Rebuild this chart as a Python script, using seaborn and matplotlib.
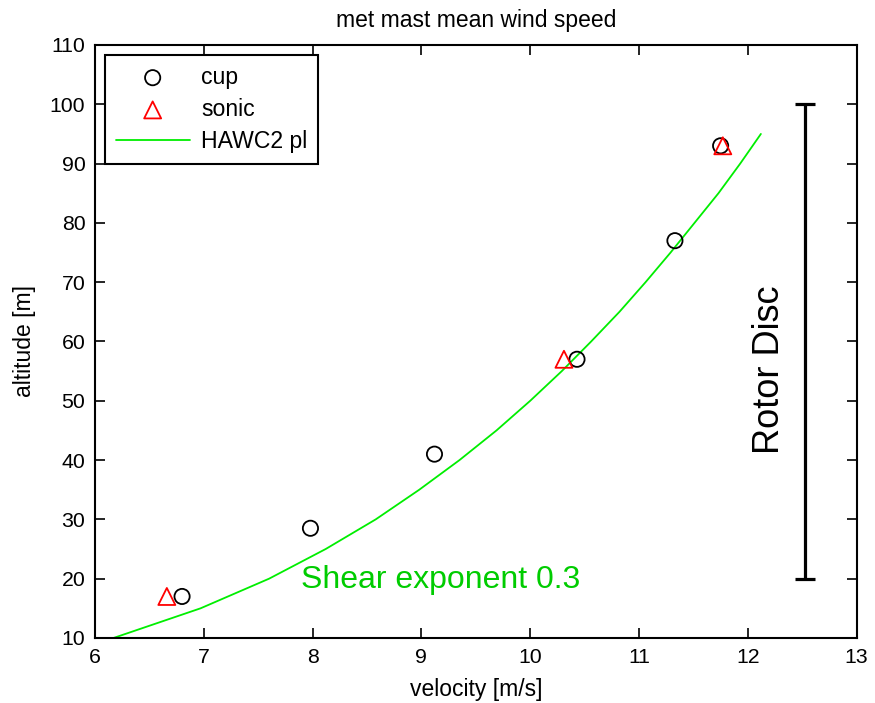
import matplotlib
matplotlib.use("Agg")
import matplotlib.pyplot as plt
import seaborn as sns
import pandas as pd

# Data
cup_v = [6.80, 7.98, 9.12, 10.43, 11.33, 11.75]
cup_z = [17.0, 28.5, 41.0, 57.0, 77.0, 93.0]
sonic_v = [6.66, 10.31, 11.77]
sonic_z = [17.0, 57.0, 93.0]
hawc_z = [10, 15, 20, 25, 30, 35, 40, 45, 50, 55, 60, 65, 70, 75, 80, 85, 90, 95]
hawc_v = [6.17, 6.97, 7.60, 8.12, 8.58, 8.98, 9.35, 9.69, 10.00, 10.29,
          10.56, 10.82, 11.06, 11.29, 11.51, 11.73, 11.93, 12.12]
rotor_x = 12.53
rotor_bottom, rotor_top = 20, 100
x_ticks = [6, 7, 8, 9, 10, 11, 12, 13]
y_ticks = [10, 20, 30, 40, 50, 60, 70, 80, 90, 100, 110]

sns.set_style("white")
plt.rcParams['font.family'] = ['Liberation Sans', 'DejaVu Sans']
plt.rcParams['text.color'] = 'black'
plt.rcParams['axes.labelcolor'] = 'black'

fig = plt.figure(figsize=(8.75, 7.03), dpi=100)
ax = fig.add_axes([0.1086, 0.0925, 0.8704, 0.8435])

cup_df = pd.DataFrame({"v": cup_v, "z": cup_z})
sonic_df = pd.DataFrame({"v": sonic_v, "z": sonic_z})
hawc_df = pd.DataFrame({"v": hawc_v, "z": hawc_z})

sns.scatterplot(data=cup_df, x="v", y="z", ax=ax, marker="o", s=120,
                facecolor="none", edgecolor="black", linewidth=1.3, label="cup", zorder=3)
sns.scatterplot(data=sonic_df, x="v", y="z", ax=ax, marker="^", s=150,
                facecolor="none", edgecolor="red", linewidth=1.3, label="sonic", zorder=3)
sns.lineplot(data=hawc_df, x="v", y="z", ax=ax, color="#00ee00", linewidth=1.3,
             sort=False, estimator=None, label="HAWC2 pl", zorder=2)

# Rotor disc bar
ax.errorbar([rotor_x], [(rotor_top + rotor_bottom) / 2],
            yerr=[(rotor_top - rotor_bottom) / 2], color="black",
            capsize=7.5, elinewidth=2.3, capthick=2.3, fmt="none")
ax.text(12.2, 55.2, "Rotor Disc", rotation=90, fontsize=26, ha="center", va="center",
        color="black")
ax.text(9.18, 19.8, "Shear exponent 0.3", color="#00cc00", fontsize=23,
        ha="center", va="center")

ax.set_xlim(6, 13)
ax.set_ylim(10, 110)
ax.set_xticks(x_ticks)
ax.set_yticks(y_ticks)
ax.tick_params(direction="in", length=7, width=1.2, labelsize=15.3, top=True, right=True,
               bottom=True, left=True, colors="black", labelcolor="black", pad=7)
for sp in ax.spines.values():
    sp.set_visible(True)
    sp.set_color("black")
    sp.set_linewidth(1.5)
ax.set_xlabel("velocity [m/s]", fontsize=16.5, labelpad=8, color="black")
ax.set_ylabel("altitude [m]", fontsize=16.5, labelpad=10, color="black")
ax.set_title("met mast mean wind speed", fontsize=16.5, pad=13, color="black")

leg = ax.legend(loc="upper left", fontsize=16.6, frameon=True, fancybox=False,
                edgecolor="black", framealpha=1, borderpad=0.45, handlelength=3.2,
                labelspacing=0.4, borderaxespad=0.45, handletextpad=0.5)
leg.get_frame().set_linewidth(1.5)
for t in leg.get_texts():
    t.set_color("black")

fig.savefig("out.png", dpi=100)
